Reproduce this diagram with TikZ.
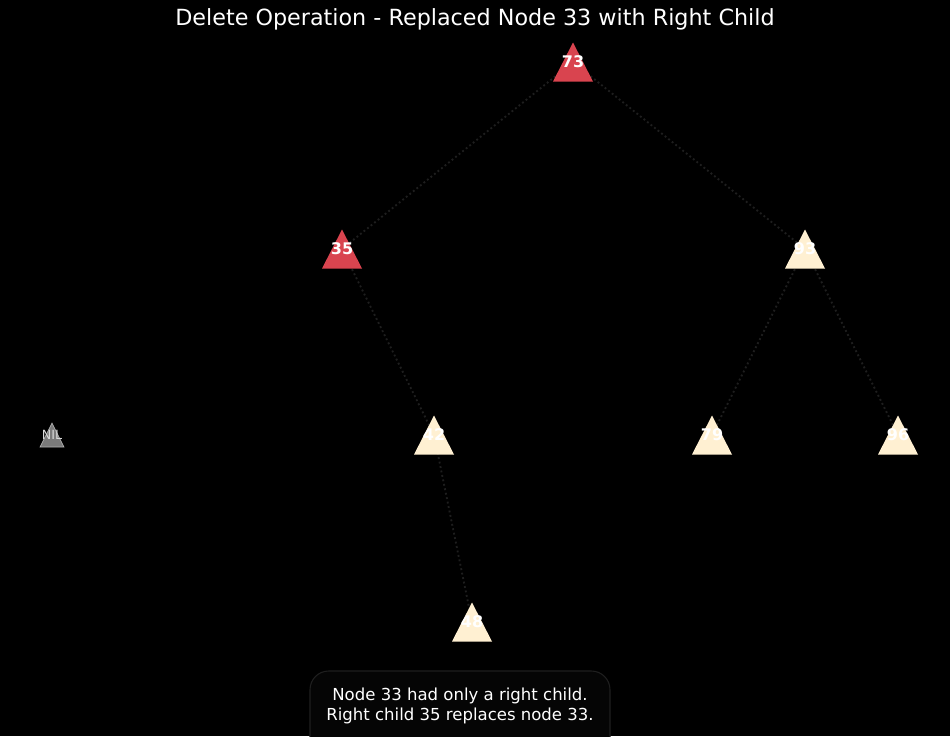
\documentclass[tikz,border=0pt]{standalone}
\usepackage{fontspec}
\setmainfont{DejaVu Sans}
\usepackage{tikz}

\definecolor{delred}{HTML}{D9444F}
\definecolor{delcream}{HTML}{FFF0D2}
\definecolor{nilgray}{HTML}{7A7A7A}
\definecolor{edgegray}{HTML}{1E1E1E}

\tikzset{
  edge/.style={edgegray, dotted, line width=1.4},
  redtri/.style={fill=delred},
  creamtri/.style={fill=delcream},
  niltri/.style={fill=nilgray, draw=gray!60, line width=0.5},
  lbl/.style={text=white, font=\fontsize{12}{14}\selectfont\bfseries, inner sep=0},
  nillbl/.style={text=gray!30, font=\fontsize{9.5}{11}\selectfont, inner sep=0},
}

\begin{document}
\begin{tikzpicture}[x=0.75pt, y=-0.75pt]

        %Background
        \fill [black] (0,0) rectangle (950,736);
        \useasboundingbox (0,0) rectangle (950,736);

        %Title
        \node [text=white, font=\fontsize{16.7}{19}\selectfont] (title) at (475,19)
          {Delete Operation - Replaced Node 33 with Right Child};

        %Positions
        \coordinate (n73) at (573,62);
        \coordinate (n35) at (342,249);
        \coordinate (n93) at (805,249);
        \coordinate (nil) at  (52,435);
        \coordinate (n42) at (434,435);
        \coordinate (n79) at (712,435);
        \coordinate (n96) at (898,435);
        \coordinate (n48) at (472,622);

        %Edges
        \draw [edge] (n73) -- (n35);
        \draw [edge] (n73) -- (n93);
        \draw [edge] (n35) -- (n42);
        \draw [edge] (n93) -- (n79);
        \draw [edge] (n93) -- (n96);
        \draw [edge] (n42) -- (n48);

        %Triangles
        \fill [redtri]   (n73) ++(0,-19.5) -- ++(20,39) -- ++(-40,0) -- cycle;  % 73
        \fill [redtri]   (n35) ++(0,-19.5) -- ++(20,39) -- ++(-40,0) -- cycle;  % 35
        \fill [creamtri] (n93) ++(0,-19.5) -- ++(20,39) -- ++(-40,0) -- cycle;  % 93
        \fill [creamtri] (n42) ++(0,-19.5) -- ++(20,39) -- ++(-40,0) -- cycle;  % 42
        \fill [creamtri] (n79) ++(0,-19.5) -- ++(20,39) -- ++(-40,0) -- cycle;  % 79
        \fill [creamtri] (n96) ++(0,-19.5) -- ++(20,39) -- ++(-40,0) -- cycle;  % 96
        \fill [creamtri] (n48) ++(0,-19.5) -- ++(20,39) -- ++(-40,0) -- cycle;  % 48
        \filldraw [niltri] (nil) ++(0,-12) -- ++(12,24) -- ++(-24,0) -- cycle;  % NIL

        %Labels
        \node [lbl] (t73) at (n73) {73};
        \node [lbl] (t35) at (n35) {35};
        \node [lbl] (t93) at (n93) {93};
        \node [lbl] (t42) at (n42) {42};
        \node [lbl] (t79) at (n79) {79};
        \node [lbl] (t96) at (n96) {96};
        \node [lbl] (t48) at (n48) {48};
        \node [nillbl] (tnil) at (nil) {NIL};

        %Note
        \draw [fill=black!98!white, draw=black!88!white, line width=0.8, rounded corners=14]
          (310,671) rectangle (610,760);
        \node [text=white, align=center, font=\fontsize{12.4}{15}\selectfont] (note) at (460,706)
          {Node 33 had only a right child.\\Right child 35 replaces node 33.};

\end{tikzpicture}
\end{document}
